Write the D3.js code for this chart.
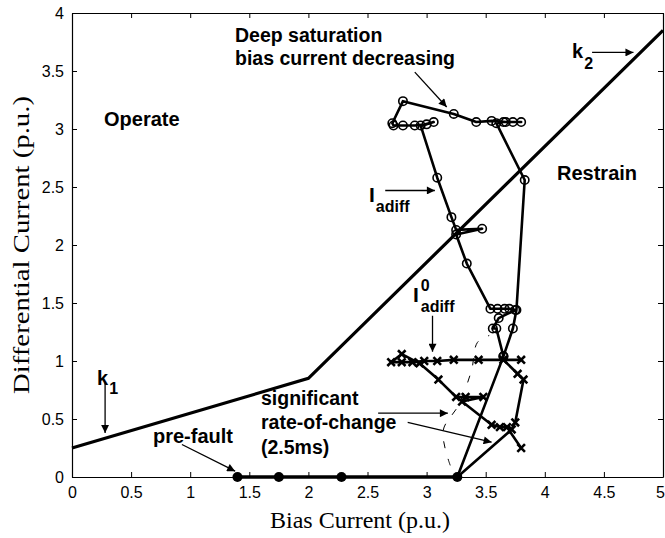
<!DOCTYPE html>
<html>
<head>
<meta charset="utf-8">
<script src="https://cdn.jsdelivr.net/npm/d3@7"></script>
<style>
  html, body { margin: 0; padding: 0; background: #fff; }
  svg { display: block; }
  .tick text { font-family: "Liberation Sans", Arial, sans-serif; font-size: 16px; fill: #000; }
  .ann { font-family: "Liberation Sans", Arial, sans-serif; font-weight: bold; fill: #000; }
  .title { font-family: "Liberation Serif", "Times New Roman", serif; font-size: 24px; fill: #000; }
</style>
</head>
<body>
<svg id="chart" width="665" height="538"></svg>
<script>
// Relay characteristic: k1 slope up to bias 2 p.u., then k2 slope
const charBias = [0, 2, 5];
const charDiff = [0.25, 0.85, 3.85];

// Pre-fault operating points
const preBias = [1.40, 1.75, 2.28, 3.26];
const preDiff = [0, 0, 0, 0];

// I_adiff trajectory (circle markers)
const adiffBias = [3.26, 3.65, 3.73, 3.76, 3.83, 3.59, 3.65, 3.73, 3.80, 3.67, 3.55, 3.42, 3.23, 2.80, 2.71, 2.72, 2.80, 2.90, 3.00, 3.06, 2.95, 3.09, 3.21, 3.25, 3.47, 3.25, 3.34, 3.54, 3.60, 3.66, 3.70, 3.75, 3.61, 3.56, 3.59, 3.65];
const adiffDiff = [0.00, 1.04, 1.28, 1.44, 2.56, 3.05, 3.06, 3.06, 3.06, 3.06, 3.07, 3.06, 3.13, 3.24, 3.05, 3.03, 3.03, 3.03, 3.04, 3.06, 3.03, 2.58, 2.24, 2.13, 2.14, 2.09, 1.84, 1.45, 1.45, 1.45, 1.45, 1.44, 1.37, 1.28, 1.28, 1.04];
// which I_adiff samples carry a marker (the first point is the shared pre-fault dot)
const adiffMarked = adiffBias.map((d, i) => i > 0);

// I0_adiff trajectory (cross markers)
const zeroBias = [3.26, 3.72, 3.75, 3.82, 3.77, 3.65, 3.80, 3.44, 3.23, 3.09, 2.98, 2.88, 2.79, 2.70, 2.79, 2.94, 3.10, 3.25, 3.33, 3.48, 3.30, 3.55, 3.62, 3.68, 3.80];
const zeroDiff = [0.00, 0.41, 0.47, 0.84, 0.89, 1.01, 1.01, 1.01, 1.01, 1.00, 1.00, 0.99, 0.99, 0.99, 1.06, 0.98, 0.84, 0.69, 0.69, 0.69, 0.65, 0.45, 0.43, 0.43, 0.25];

// Thin dashed locus of the significant rate-of-change instants
const rocBias = [3.20, 3.14, 3.27, 3.38, 3.43, 3.53];
const rocDiff = [0.10, 0.40, 0.62, 0.92, 1.16, 1.22];

// Axis ticks
const xTicks = [0, 0.5, 1, 1.5, 2, 2.5, 3, 3.5, 4, 4.5, 5];
const xTickLabels = ["0", "0.5", "1", "1.5", "2", "2.5", "3", "3.5", "4", "4.5", "5"];
const yTicks = [0, 0.5, 1, 1.5, 2, 2.5, 3, 3.5, 4];
const yTickLabels = ["0", "0.5", "1", "1.5", "2", "2.5", "3", "3.5", "4"];

// Annotation arrows, in data units: [x0, y0, x1, y1]
const arrows = [
  [2.90, 3.49, 3.17, 3.19],
  [2.65, 2.47, 3.07, 2.47],
  [3.05, 1.39, 3.05, 1.08],
  [0.28, 0.81, 0.28, 0.38],
  [4.40, 3.66, 4.75, 3.66],
  [0.93, 0.28, 1.38, 0.05],
  [2.59, 0.55, 3.18, 0.55],
  [2.84, 0.47, 3.55, 0.30]
];

const svg = d3.select("#chart");
const x = d3.scaleLinear().domain([0, 5]).range([72, 663]);
const y = d3.scaleLinear().domain([0, 4]).range([477, 13]);

const defs = svg.append("defs");
defs.append("marker")
  .attr("id", "head")
  .attr("viewBox", "0 0 10 10")
  .attr("refX", 10).attr("refY", 5)
  .attr("markerWidth", 11).attr("markerHeight", 8)
  .attr("markerUnits", "userSpaceOnUse")
  .attr("orient", "auto")
  .append("path").attr("d", "M0,0 L10,5 L0,10 Z").attr("fill", "#000");

// Axes with inward ticks on all four sides
const fmtX = (d, i) => xTickLabels[i];
const fmtY = (d, i) => yTickLabels[i];
const gB = svg.append("g").attr("transform", `translate(0,${y(0)})`)
  .call(d3.axisBottom(x).tickValues(xTicks).tickFormat(fmtX).tickSizeInner(-5).tickSizeOuter(0).tickPadding(10));
// keep the last label inside the page edge
gB.selectAll(".tick").filter(d => d === 5).select("text").attr("dx", "-3");
const gL = svg.append("g").attr("transform", `translate(${x(0)},0)`)
  .call(d3.axisLeft(y).tickValues(yTicks).tickFormat(fmtY).tickSizeInner(-5).tickSizeOuter(0).tickPadding(8));
const gT = svg.append("g").attr("transform", `translate(0,${y(4)})`)
  .call(d3.axisTop(x).tickValues(xTicks).tickFormat("").tickSizeInner(-5).tickSizeOuter(0));
const gR = svg.append("g").attr("transform", `translate(${x(5)},0)`)
  .call(d3.axisRight(y).tickValues(yTicks).tickFormat("").tickSizeInner(-5).tickSizeOuter(0));
[gB, gL, gT, gR].forEach(g => {
  g.select(".domain").attr("stroke", "#000").attr("stroke-width", 1.2);
  g.selectAll(".tick line").attr("stroke", "#000").attr("stroke-width", 1);
});

const line = d3.line().x(d => x(d[0])).y(d => y(d[1]));
const zip = (a, b) => a.map((v, i) => [v, b[i]]);

// Characteristic
svg.append("path").datum(zip(charBias, charDiff))
  .attr("d", line).attr("fill", "none").attr("stroke", "#000").attr("stroke-width", 3.2);

// Dashed rate-of-change locus
svg.append("path").datum(zip(rocBias, rocDiff))
  .attr("d", d3.line().x(d => x(d[0])).y(d => y(d[1])).curve(d3.curveCatmullRom))
  .attr("fill", "none").attr("stroke", "#000").attr("stroke-width", 1).attr("stroke-dasharray", "7,11");

// I0_adiff trajectory
const zeroPts = zip(zeroBias, zeroDiff);
svg.append("path").datum(zeroPts)
  .attr("d", line).attr("fill", "none").attr("stroke", "#000").attr("stroke-width", 2.6).attr("stroke-linejoin", "round");
svg.append("g").selectAll("path").data(zeroPts.slice(1)).join("path")
  .attr("transform", d => `translate(${x(d[0])},${y(d[1])})`)
  .attr("d", "M-3.8,-3.8 L3.8,3.8 M-3.8,3.8 L3.8,-3.8")
  .attr("stroke", "#000").attr("stroke-width", 2.6);

// I_adiff trajectory
const adiffPts = zip(adiffBias, adiffDiff);
svg.append("path").datum(adiffPts)
  .attr("d", line).attr("fill", "none").attr("stroke", "#000").attr("stroke-width", 2.6).attr("stroke-linejoin", "round");
svg.append("g").selectAll("circle").data(adiffPts.filter((d, i) => adiffMarked[i])).join("circle")
  .attr("cx", d => x(d[0])).attr("cy", d => y(d[1])).attr("r", 4.2)
  .attr("fill", "none").attr("stroke", "#000").attr("stroke-width", 1.6);

// Pre-fault
const prePts = zip(preBias, preDiff);
svg.append("path").datum(prePts)
  .attr("d", line).attr("fill", "none").attr("stroke", "#000").attr("stroke-width", 3.6);
svg.append("g").selectAll("circle").data(prePts).join("circle")
  .attr("cx", d => x(d[0])).attr("cy", d => y(d[1])).attr("r", 5).attr("fill", "#000");

// Arrows
svg.append("g").selectAll("line").data(arrows).join("line")
  .attr("x1", d => x(d[0])).attr("y1", d => y(d[1]))
  .attr("x2", d => x(d[2])).attr("y2", d => y(d[3]))
  .attr("stroke", "#000").attr("stroke-width", 1.3).attr("marker-end", "url(#head)");

// Labels
const ann = svg.append("g");
function label(px, py, size, str) {
  return ann.append("text").attr("class", "ann").attr("x", px).attr("y", py).attr("font-size", size).text(str);
}
label(104, 126, 20, "Operate");
label(557, 180, 20, "Restrain");
label(235, 42, 19.5, "Deep saturation");
label(235, 65, 19.5, "bias current decreasing");
label(261, 405, 19.5, "significant");
label(261, 429, 19.5, "rate-of-change");
label(261, 454, 19.5, "(2.5ms)");
label(153, 443, 20, "pre-fault");

// k1, k2 with subscripts
const k1 = label(97, 385, 20, "k");
k1.append("tspan").attr("dx", 1).attr("dy", 9).attr("font-size", 16).text("1");
const k2 = label(572, 58, 20, "k");
k2.append("tspan").attr("dx", 1).attr("dy", 11).attr("font-size", 16).text("2");

// I_adiff
const ia = label(369, 202, 21, "I");
ia.append("tspan").attr("dx", 1).attr("dy", 10).attr("font-size", 16).text("adiff");
// I0_adiff
const i0 = label(413, 302, 21, "I");
i0.append("tspan").attr("dx", 2).attr("dy", -11).attr("font-size", 16).text("0");
i0.append("tspan").attr("dx", -9).attr("dy", 21).attr("font-size", 16).text("adiff");

// Axis titles
svg.append("text").attr("class", "title").attr("x", 360).attr("y", 528)
  .attr("text-anchor", "middle").text("Bias Current (p.u.)");
svg.append("text").attr("class", "title")
  .attr("transform", `translate(29,${(y(0) + y(4)) / 2}) rotate(-90)`)
  .attr("text-anchor", "middle")
  .attr("font-size", 26)
  .attr("textLength", 298).attr("lengthAdjust", "spacingAndGlyphs")
  .text("Differential Current (p.u.)");
</script>
</body>
</html>
